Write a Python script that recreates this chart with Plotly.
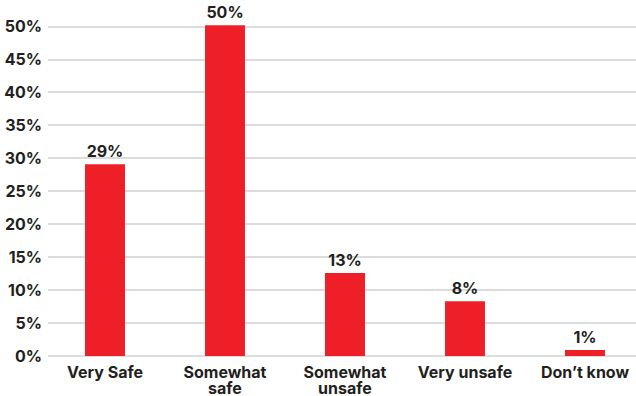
import plotly.graph_objects as go

# Survey responses: perceived safety
categories = ["Very Safe", "Somewhat<br>safe", "Somewhat<br>unsafe", "Very unsafe", "Don’t know"]
shares = [29.1, 50.2, 12.6, 8.3, 0.9]
tick_values = [0, 5, 10, 15, 20, 25, 30, 35, 40, 45, 50]
tick_labels = [f"{v}%" for v in tick_values]

FONT = "Inter"
TEXT = "#231f20"
RED = "#ee1f26"
SIZE = 16

positions = list(range(len(categories)))
first_lines = [c.split("<br>")[0] for c in categories]
second_lines = [c.split("<br>")[1] if "<br>" in c else "" for c in categories]

fig = go.Figure(
    go.Bar(
        x=positions,
        y=shares,
        width=0.333,
        marker=dict(color=RED, line=dict(width=0)),
        text=[f"{v:.0f}%" for v in shares],
        textposition="outside",
        textfont=dict(family=FONT, size=SIZE, color=TEXT, weight=700),
        cliponaxis=False,
    )
)

# second line of wrapped category names, set tighter than the default line height
for pos, line in zip(positions, second_lines):
    if line:
        fig.add_annotation(
            x=pos, y=0, xref="x", yref="y",
            text=line, showarrow=False,
            yanchor="top", yshift=-20,
            font=dict(family=FONT, size=SIZE, color=TEXT, weight=700),
        )

fig.update_layout(
    width=636,
    height=396,
    margin=dict(l=48, r=0, t=20, b=40),
    paper_bgcolor="white",
    plot_bgcolor="white",
    showlegend=False,
    font=dict(family=FONT, size=SIZE, color=TEXT),
    xaxis=dict(
        range=[-0.475, 4.425],
        tickvals=positions,
        ticktext=first_lines,
        showgrid=False,
        zeroline=False,
        showline=False,
        ticks="",
        automargin=False,
        ticklabelstandoff=5,
        tickfont=dict(family=FONT, size=SIZE, color=TEXT, weight=700),
    ),
    yaxis=dict(
        range=[0, 51],
        tickvals=tick_values,
        ticktext=tick_labels,
        showgrid=True,
        gridcolor="#dcdcdc",
        gridwidth=1.5,
        zeroline=True,
        zerolinecolor="#dcdcdc",
        zerolinewidth=1.5,
        showline=False,
        ticks="",
        automargin=False,
        ticklabelstandoff=5,
        tickfont=dict(family=FONT, size=SIZE, color=TEXT, weight=700),
    ),
)

fig.write_html("out.html")
